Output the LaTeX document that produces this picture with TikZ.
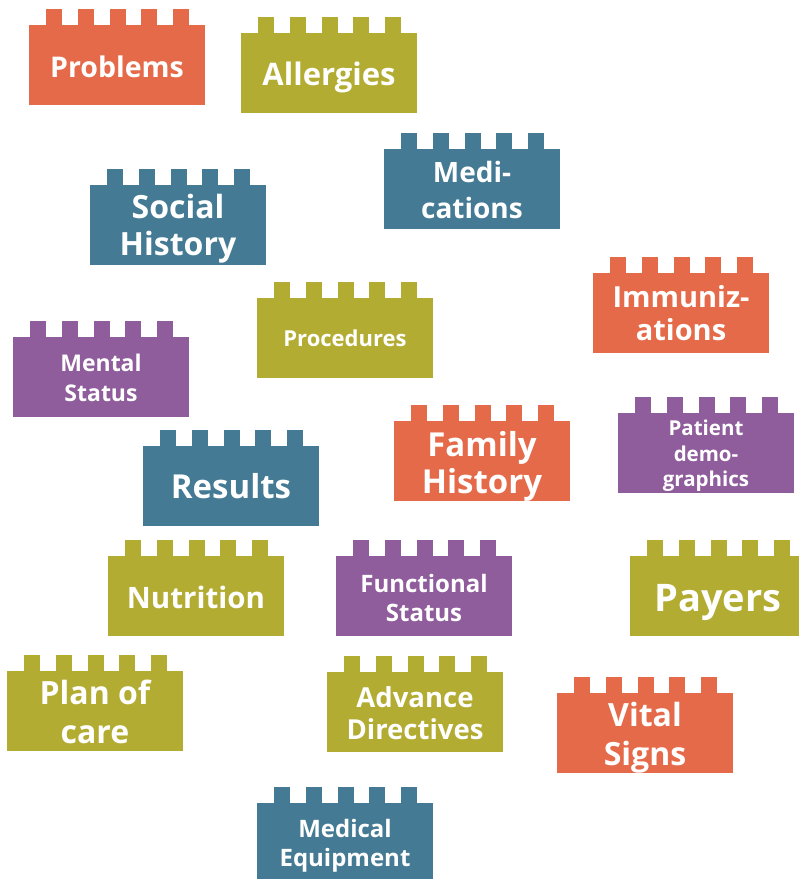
\documentclass[tikz,border=0pt]{standalone}
\usepackage{fontspec}
\setmainfont{Open Sans}
\definecolor{orangeB}{HTML}{E56A4A}
\definecolor{oliveB}{HTML}{B3AC32}
\definecolor{tealB}{HTML}{447A94}
\definecolor{purpleB}{HTML}{8F5D9C}
\newcommand\fsz[1]{\fontsize{#1}{#1}\selectfont\bfseries}
% brick: #1 x left, #2 y top of body, #3 colour
\newcommand\legobrick[3]{%
  \fill[#3] (#1,#2) rectangle ++(176,80);
  \foreach \i in {0,...,4}{\fill[#3] ({#1+17+31.75*\i},#2+0.5) rectangle ++(16,-16.5);}
}
\tikzset{lbl/.style={text=white, anchor=base, inner sep=0pt}}
\begin{document}
\begin{tikzpicture}[x=1pt,y=-1pt]
\useasboundingbox (0,0) rectangle (799,879);
\clip (0,0) rectangle (799,879);
% bricks
\legobrick{29}{25}{orangeB}
\legobrick{241}{33}{oliveB}
\legobrick{384}{149}{tealB}
\legobrick{90}{185}{tealB}
\legobrick{593}{273}{orangeB}
\legobrick{257}{298}{oliveB}
\legobrick{13}{337}{purpleB}
\legobrick{618}{413}{purpleB}
\legobrick{143}{446}{tealB}
\legobrick{394}{421}{orangeB}
\legobrick{108}{556}{oliveB}
\legobrick{336}{556}{purpleB}
\legobrick{630}{556}{oliveB}
\legobrick{7}{671}{oliveB}
\legobrick{327}{672}{oliveB}
\legobrick{557}{693}{orangeB}
\legobrick{257}{803}{tealB}
% labels
\node[lbl, font=\fsz{28.5}] (problems) at (117,77) {Problems};
\node[lbl, font=\fsz{31}] (allergies) at (329,85) {Allergies};
\node[lbl, font=\fsz{28}] (med1) at (472,182) {Medi-};
\node[lbl, font=\fsz{28}] (med2) at (472,218.5) {cations};
\node[lbl, font=\fsz{32}] (soc1) at (178,218) {Social};
\node[lbl, font=\fsz{32}] (soc2) at (178,255) {History};
\node[lbl, font=\fsz{29}] (imm1) at (681,307.5) {Immuniz-};
\node[lbl, font=\fsz{29}] (imm2) at (681,340.5) {ations};
\node[lbl, font=\fsz{22}] (proc) at (345,346.5) {Procedures};
\node[lbl, font=\fsz{23}] (men1) at (101,371) {Mental};
\node[lbl, font=\fsz{23}] (men2) at (101,401) {Status};
\node[lbl, font=\fsz{20.5}] (pat1) at (706,435.5) {Patient};
\node[lbl, font=\fsz{20.5}] (pat2) at (706,461) {demo-};
\node[lbl, font=\fsz{20.5}] (pat3) at (706,486.5) {graphics};
\node[lbl, font=\fsz{33}] (results) at (231,498.7) {Results};
\node[lbl, font=\fsz{33}] (fam1) at (482,456) {Family};
\node[lbl, font=\fsz{33}] (fam2) at (482,493.7) {History};
\node[lbl, font=\fsz{29.5}] (nutrition) at (196,608.3) {Nutrition};
\node[lbl, font=\fsz{24}] (fun1) at (424,592.7) {Functional};
\node[lbl, font=\fsz{24}] (fun2) at (424,621) {Status};
\node[lbl, font=\fsz{38}] (payers) at (718,611) {Payers};
\node[lbl, font=\fsz{32}] (plan1) at (95,704.5) {Plan of};
\node[lbl, font=\fsz{32}] (plan2) at (95,743.3) {care};
\node[lbl, font=\fsz{27.5}] (adv1) at (415,707.7) {Advance};
\node[lbl, font=\fsz{27.5}] (adv2) at (415,739.3) {Directives};
\node[lbl, font=\fsz{32}] (vit1) at (645,726) {Vital};
\node[lbl, font=\fsz{32}] (vit2) at (645,765) {Signs};
\node[lbl, font=\fsz{24}] (mede1) at (345,837.5) {Medical};
\node[lbl, font=\fsz{24}] (mede2) at (345,866.5) {Equipment};
\end{tikzpicture}
\end{document}
